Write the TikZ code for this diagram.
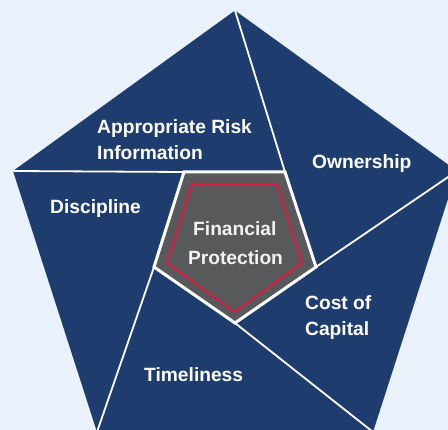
\documentclass[tikz,border=0pt]{standalone}
\usepackage{fontspec}
\setmainfont{Liberation Sans}
\definecolor{bgblue}{HTML}{E9F2FA}
\definecolor{navy}{HTML}{1E3D6E}
\definecolor{coregrey}{HTML}{58595B}
\definecolor{corered}{HTML}{D51C43}
\tikzset{
  divider/.style={draw=white, line width=1.8pt},
  lbl/.style={text=white, font=\bfseries\fontsize{19.2}{23}\selectfont, inner sep=0pt, anchor=base west},
  corelbl/.style={lbl, anchor=base, text=white!95!black},
}
\begin{document}
\begin{tikzpicture}[x=1pt,y=-1pt]
\useasboundingbox (0,0) rectangle (448,430);
\fill[bgblue] (0,0) rectangle (448,430);
\clip (0,0) rectangle (448,430);
% outer vertices
\coordinate (T) at (235,10.5);
\coordinate (R) at (457,171);
\coordinate (BR) at (373,432);
\coordinate (BL) at (97,432);
\coordinate (L) at (13,171);
% inner vertices
\coordinate (ITL) at (184,172);
\coordinate (ITR) at (285,172);
\coordinate (IR) at (316,267);
\coordinate (IB) at (235,323);
\coordinate (IL) at (154,267);
\fill[navy] (T) -- (R) -- (BR) -- (BL) -- (L) -- cycle;
\draw[divider] (L) -- (ITL);
\draw[divider] (T) -- (ITR);
\draw[divider] (R) -- (IR);
\draw[divider] (BR) -- (IB);
\draw[divider] (BL) -- (IL);
\filldraw[fill=coregrey, draw=white, line width=3pt, line join=miter] (ITL) -- (ITR) -- (IR) -- (IB) -- (IL) -- cycle;
\draw[corered, line width=2pt] (192,184) -- (277,184) -- (302,263) -- (234.5,312) -- (167,263) -- cycle;
% labels
\node[lbl] (ari1) at (97,134) {Appropriate Risk};
\node[lbl] (ari2) at (97,159.5) {Information};
\node[lbl] (own) at (312,169) {Ownership};
\node[lbl] (dis) at (50,214) {Discipline};
\node[lbl] (coc1) at (305,310) {Cost of};
\node[lbl] (coc2) at (305,336) {Capital};
\node[lbl] (tim) at (144,381.5) {Timeliness};
\node[corelbl] (fp1) at (234.8,236) {Financial};
\node[corelbl] (fp2) at (235.5,264.3) {Protection};
\end{tikzpicture}
\end{document}
